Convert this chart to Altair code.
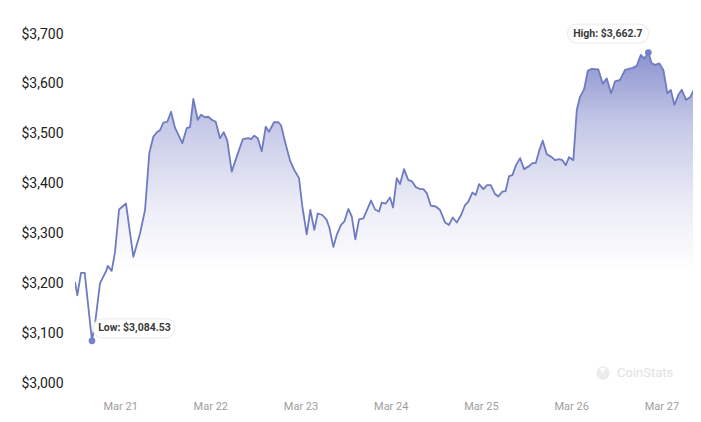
import altair as alt
import pandas as pd

# ETH price, 7-day view (timestamps local)
times = [
    "2024-03-20 12:00", "2024-03-20 12:37", "2024-03-20 13:36", "2024-03-20 14:35", "2024-03-20 16:31",
    "2024-03-20 17:24", "2024-03-20 18:39", "2024-03-20 20:26", "2024-03-20 20:42", "2024-03-20 21:46",
    "2024-03-20 22:39", "2024-03-20 23:43",
    "2024-03-21 01:34", "2024-03-21 03:31", "2024-03-21 05:18", "2024-03-21 06:38", "2024-03-21 07:46",
    "2024-03-21 08:50", "2024-03-21 09:54", "2024-03-21 10:37", "2024-03-21 11:30", "2024-03-21 12:33",
    "2024-03-21 13:33", "2024-03-21 14:36", "2024-03-21 16:33", "2024-03-21 17:43", "2024-03-21 18:36",
    "2024-03-21 19:29", "2024-03-21 20:39", "2024-03-21 21:32", "2024-03-21 22:35", "2024-03-21 23:28",
    "2024-03-22 00:23", "2024-03-22 01:26", "2024-03-22 02:35", "2024-03-22 03:34", "2024-03-22 04:31",
    "2024-03-22 05:42", "2024-03-22 07:02", "2024-03-22 08:38", "2024-03-22 10:07", "2024-03-22 10:50",
    "2024-03-22 11:43", "2024-03-22 12:37", "2024-03-22 13:41", "2024-03-22 14:45", "2024-03-22 15:37",
    "2024-03-22 16:57", "2024-03-22 18:06", "2024-03-22 18:49", "2024-03-22 19:53", "2024-03-22 21:13",
    "2024-03-22 22:21", "2024-03-22 23:36",
    "2024-03-23 00:29", "2024-03-23 01:39", "2024-03-23 02:37", "2024-03-23 03:40", "2024-03-23 04:35",
    "2024-03-23 05:48", "2024-03-23 06:58", "2024-03-23 07:40", "2024-03-23 08:44", "2024-03-23 09:38",
    "2024-03-23 10:47", "2024-03-23 11:40", "2024-03-23 12:43", "2024-03-23 13:38", "2024-03-23 14:35",
    "2024-03-23 15:34", "2024-03-23 16:43", "2024-03-23 18:46", "2024-03-23 19:50", "2024-03-23 20:53",
    "2024-03-23 21:37", "2024-03-23 22:40", "2024-03-23 23:49",
    "2024-03-24 00:37", "2024-03-24 01:36", "2024-03-24 02:29", "2024-03-24 03:32", "2024-03-24 04:41",
    "2024-03-24 05:35", "2024-03-24 06:39", "2024-03-24 07:48", "2024-03-24 08:41", "2024-03-24 09:35",
    "2024-03-24 10:39", "2024-03-24 11:59", "2024-03-24 13:07", "2024-03-24 14:27", "2024-03-24 15:31",
    "2024-03-24 16:30", "2024-03-24 17:34", "2024-03-24 18:43", "2024-03-24 19:46", "2024-03-24 20:39",
    "2024-03-24 21:43", "2024-03-24 22:37", "2024-03-24 23:30",
    "2024-03-25 00:38", "2024-03-25 01:38", "2024-03-25 02:37", "2024-03-25 03:45", "2024-03-25 04:38",
    "2024-03-25 05:42", "2024-03-25 06:33", "2024-03-25 07:29", "2024-03-25 08:22", "2024-03-25 09:20",
    "2024-03-25 10:25", "2024-03-25 11:28", "2024-03-25 12:48", "2024-03-25 13:41", "2024-03-25 14:35",
    "2024-03-25 15:32", "2024-03-25 16:26", "2024-03-25 17:31", "2024-03-25 18:39", "2024-03-25 19:43",
    "2024-03-25 20:47", "2024-03-25 21:40", "2024-03-25 22:34", "2024-03-25 23:27",
    "2024-03-26 00:35", "2024-03-26 01:30", "2024-03-26 02:22", "2024-03-26 03:26", "2024-03-26 04:25",
    "2024-03-26 05:29", "2024-03-26 07:14", "2024-03-26 08:25", "2024-03-26 09:29", "2024-03-26 10:37",
    "2024-03-26 11:41", "2024-03-26 13:01", "2024-03-26 14:20", "2024-03-26 16:23", "2024-03-26 17:27",
    "2024-03-26 18:31", "2024-03-26 19:29", "2024-03-26 20:32", "2024-03-26 21:27", "2024-03-26 22:20",
    "2024-03-26 23:28",
    "2024-03-27 00:32", "2024-03-27 01:36", "2024-03-27 02:31", "2024-03-27 03:28", "2024-03-27 04:32",
    "2024-03-27 05:26", "2024-03-27 06:35", "2024-03-27 07:38", "2024-03-27 08:31", "2024-03-27 09:25",
    "2024-03-27 10:34",
]

prices = [
    3203, 3176, 3221, 3221, 3084.53, 3123, 3200, 3227, 3235, 3225, 3263, 3348,
    3360, 3253, 3300, 3347, 3461, 3494, 3504, 3507, 3522, 3524, 3544, 3512, 3481, 3511, 3513,
    3570, 3528, 3538, 3533, 3534,
    3528, 3524, 3491, 3503, 3486, 3424, 3454, 3489, 3491, 3489, 3496, 3491, 3465, 3514, 3504,
    3523, 3523, 3517, 3484, 3446, 3427, 3411,
    3354, 3298, 3347, 3307, 3340, 3337, 3327, 3312, 3273, 3297, 3317, 3324, 3349, 3334, 3288,
    3328, 3330, 3366, 3348, 3344, 3362, 3360, 3372,
    3352, 3411, 3399, 3429, 3407, 3405, 3393, 3389, 3389, 3381, 3356, 3354, 3347, 3322, 3317,
    3332, 3322, 3337, 3357, 3364, 3382, 3377, 3399,
    3389, 3397, 3397, 3379, 3374, 3384, 3385, 3415, 3417, 3437, 3451, 3429, 3435, 3441, 3441,
    3467, 3486, 3459, 3454, 3447, 3449, 3447, 3437, 3453,
    3447, 3548, 3574, 3589, 3626, 3630, 3629, 3600, 3611, 3581, 3605, 3608, 3628, 3632, 3636,
    3658, 3651, 3662.7, 3641, 3638, 3641,
    3628, 3581, 3588, 3558, 3578, 3588, 3568, 3573, 3586, 3591, 3588,
]

y_ticks = [3000, 3100, 3200, 3300, 3400, 3500, 3600, 3700]
x_tick_days = [21, 22, 23, 24, 25, 26, 27]
# visible time window (the chart is cut at the right edge of the frame)
x_start = alt.DateTime(year=2024, month=3, date=20, hours=12, minutes=0)
x_end = alt.DateTime(year=2024, month=3, date=27, hours=8, minutes=25)

LINE = "#6f7bc1"
FONT = "Roboto"

df = pd.DataFrame({"time": pd.to_datetime(times), "price": prices})

lo_i = prices.index(min(prices))
hi_i = prices.index(max(prices))
ext = pd.DataFrame({
    "time": pd.to_datetime([times[lo_i], times[hi_i]]),
    "price": [prices[lo_i], prices[hi_i]],
    "label": [f"Low: ${prices[lo_i]:,}", f"High: ${prices[hi_i]:,}"],
})
low_df = ext.iloc[[0]]
high_df = ext.iloc[[1]]

x_enc = alt.X(
    "time:T",
    scale=alt.Scale(domain=[x_start, x_end], nice=False, padding=0),
    axis=alt.Axis(
        values=[alt.DateTime(year=2024, month=3, date=d) for d in x_tick_days],
        format="%b %d", title=None, domain=False, ticks=False, grid=False,
        labelColor="#9e9e9e", labelFontSize=11, labelFont=FONT, labelPadding=17,
        labelFlush=False,
    ),
)
y_enc = alt.Y(
    "price:Q",
    scale=alt.Scale(domain=[3000, 3700], zero=False, nice=False),
    axis=alt.Axis(
        values=y_ticks, format="$,.0f", title=None, domain=False, ticks=False, grid=False,
        labelColor="#222222", labelFontSize=14, labelFont=FONT, labelAlign="left",
        labelPadding=54, labelBaseline="middle",
    ),
)

grad = alt.Gradient(
    gradient="linear",
    stops=[
        alt.GradientStop(color="#8a93cf", offset=0),
        alt.GradientStop(color="#c6c9e7", offset=0.22),
        alt.GradientStop(color="#eaebf6", offset=0.45),
        alt.GradientStop(color="#ffffff", offset=0.66),
        alt.GradientStop(color="#ffffff", offset=1),
    ],
    x1=1, x2=1, y1=0, y2=1,
)

base = alt.Chart(df)
area = base.mark_area(color=grad, opacity=1, clip=True).encode(x=x_enc, y=y_enc, y2=alt.datum(3000))
line = base.mark_line(color=LINE, strokeWidth=1.8, strokeJoin="round", clip=True).encode(
    x="time:T", y="price:Q")

dots = alt.Chart(ext).mark_point(filled=True, color="#7682c6", size=45, opacity=1).encode(
    x="time:T", y="price:Q")


def pill(w, h):
    r = h / w
    a = 1 - r
    return (f"M {-a} {-r} L {a} {-r} A {r} {r} 0 0 1 {a} {r} "
            f"L {-a} {r} A {r} {r} 0 0 1 {-a} {-r} Z")


low_box = alt.Chart(low_df).mark_point(
    shape=pill(82, 19), size=82 * 82, filled=True, fill="white", stroke="#e8e8ec",
    strokeWidth=1, opacity=1, xOffset=42, yOffset=-12.5,
).encode(x="time:T", y="price:Q")
high_box = alt.Chart(high_df).mark_point(
    shape=pill(81, 19), size=81 * 81, filled=True, fill="white", stroke="#e8e8ec",
    strokeWidth=1, opacity=1, xOffset=-40.3, yOffset=-19,
).encode(x="time:T", y="price:Q")

low_txt = alt.Chart(low_df).mark_text(
    font=FONT, fontSize=10.5, fontWeight="bold", color="#3a3a3a", dx=42.5, dy=-12.5,
    align="center", baseline="middle",
).encode(x="time:T", y="price:Q", text="label:N")
high_txt = alt.Chart(high_df).mark_text(
    font=FONT, fontSize=10.5, fontWeight="bold", color="#3a3a3a", dx=-40.5, dy=-19,
    align="center", baseline="middle",
).encode(x="time:T", y="price:Q", text="label:N")

wm = pd.DataFrame({"brand": ["CoinStats"]})
wm_logo = alt.Chart(wm).mark_arc(color="#ebebeb", radius=6, theta=0.5, theta2=5.6).encode(
    x=alt.value(528), y=alt.value(339))
wm_ring = alt.Chart(wm).mark_point(shape="circle", size=150, stroke="#ebebeb", strokeWidth=1.2,
                                   opacity=1).encode(x=alt.value(528), y=alt.value(339))
wm_text = alt.Chart(wm).mark_text(font=FONT, fontSize=13, color="#e2e2e2", align="left",
                                  baseline="middle").encode(
    x=alt.value(542), y=alt.value(339), text="brand:N")

chart = alt.layer(
    area, line, wm_ring, wm_logo, wm_text, dots, low_box, high_box, low_txt, high_txt
).properties(
    width=618, height=349,
    autosize=alt.AutoSizeParams(type="none"),
    padding={"left": 67, "top": 26, "right": 0, "bottom": 32},
).configure(font=FONT).configure_view(stroke=None)

chart.save("out.html", embed_options={"renderer": "svg", "actions": False})
